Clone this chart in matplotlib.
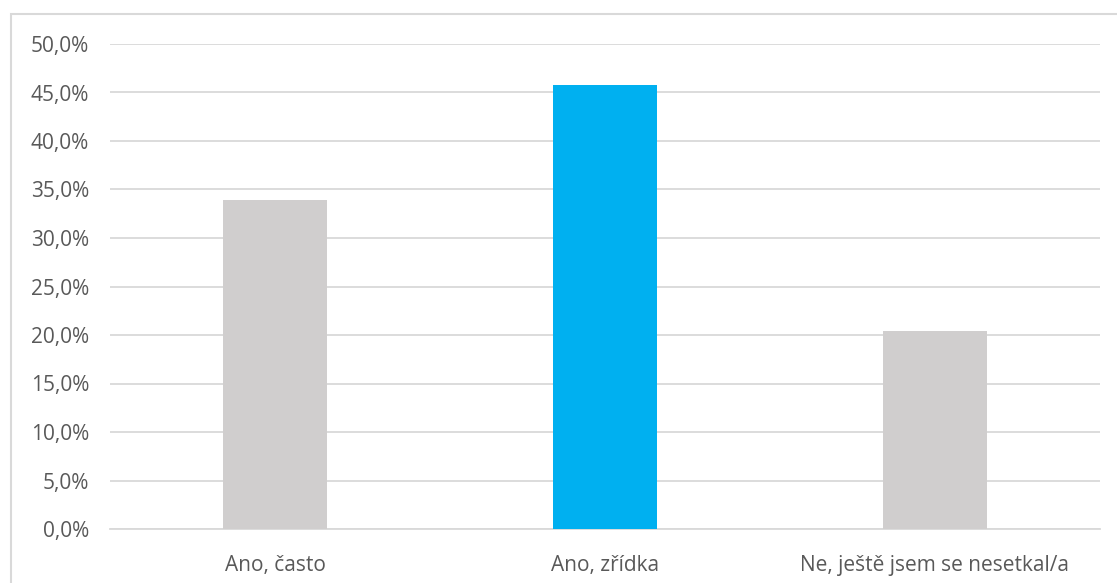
import matplotlib.pyplot as plt
from matplotlib.patches import Rectangle
from matplotlib.ticker import FuncFormatter

plt.rcParams['font.family'] = ['Open Sans', 'DejaVu Sans']

# data
kategorie = ['Ano, často', 'Ano, zřídka', 'Ne, ještě jsem se nesetkal/a']
podil = [33.9, 45.8, 20.4]
barvy = ['#d0cece', '#00b0f0', '#d0cece']

fig = plt.figure(figsize=(11.17, 5.83), dpi=100)
ax = fig.add_axes([110/1117, 1 - 529/583, 990/1117, 485/583])

# ramecek kolem grafu
fig.patches.append(Rectangle((11/1117, -0.05), 1.2, 1 - 14/583 + 0.05,
                             transform=fig.transFigure, fill=False,
                             edgecolor='#d9d9d9', linewidth=1.5))

x = range(len(kategorie))
ax.bar(x, podil, width=0.314, color=barvy, zorder=3)

ax.set_xlim(-0.5, len(kategorie) - 0.5)
ax.set_ylim(0, 50)
ax.set_yticks(range(0, 51, 5))
ax.yaxis.set_major_formatter(FuncFormatter(lambda v, p: f'{v:.1f}%'.replace('.', ',')))
ax.set_xticks(list(x))
ax.set_xticklabels(kategorie)

ax.grid(axis='y', color='#d9d9d9', linewidth=1.3, zorder=0)
for s in ['top', 'right', 'left']:
    ax.spines[s].set_visible(False)
ax.spines['bottom'].set_color('#d9d9d9')
ax.spines['bottom'].set_linewidth(1.3)
ax.tick_params(length=0, labelsize=15, colors='#595959')
ax.tick_params(axis='y', pad=15)
ax.tick_params(axis='x', pad=19)

plt.savefig('out.png', dpi=100)
